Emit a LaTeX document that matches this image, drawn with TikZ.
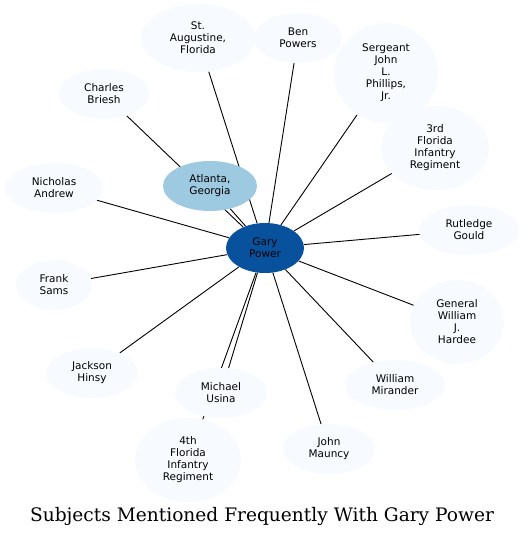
\documentclass[tikz,border=0pt]{standalone}
\usepackage{fontspec}
\setmainfont{DejaVu Sans}
\newfontfamily\titlefont{DejaVu Serif}
\usepackage{tikz}
\usetikzlibrary{shapes.geometric, backgrounds}
\definecolor{garyblue}{HTML}{08519C}
\definecolor{placeblue}{HTML}{9ECAE1}
\definecolor{paleblue}{HTML}{F7FBFF}

\begin{document}
\begin{tikzpicture}[x=1pt, y=-1pt,
        subject/.style={ellipse, fill=paleblue, inner sep=0pt, align=center,
                        font=\fontsize{10.5}{12}\selectfont},
        link/.style={draw, line width=0.9pt}]
        \useasboundingbox (0,0) rectangle (524,538);

        % centre
        \node[subject, fill=garyblue, minimum width=78, minimum height=50](gary) at (265,248) {Gary\\Power};
        \node[subject, fill=placeblue, minimum width=94, minimum height=50](atlanta) at (210,186) {Atlanta,\\Georgia};

        % ring of subjects, clockwise from the top
        \node[subject, minimum width=114, minimum height=68](augustine) at (198,38) {St.\\Augustine,\\Florida};
        \node[subject, minimum width=88, minimum height=50](ben) at (298,38) {Ben\\Powers};
        \node[subject, minimum width=104, minimum height=100](phillips) at (386,73) {Sergeant\\John\\L.\\Phillips,\\Jr.};
        \node[subject, minimum width=108, minimum height=84](third) at (435,148) {3rd\\Florida\\Infantry\\Regiment};
        \node[subject, minimum width=100, minimum height=50](gould) at (469,230) {Rutledge\\Gould};
        \node[subject, minimum width=94, minimum height=84](hardee) at (457,322) {General\\William\\J.\\Hardee};
        \node[subject, minimum width=100, minimum height=50](mirander) at (395,385) {William\\Mirander};
        \node[subject, minimum width=92, minimum height=50](mauncy) at (329,449) {John\\Mauncy};
        \node[subject, minimum width=106, minimum height=84](fourth) at (188,460) {4th\\Florida\\Infantry\\Regiment};
        \node[subject, minimum width=92, minimum height=50](usina) at (221,393) {Michael\\Usina};
        \node[subject, minimum width=92, minimum height=50](hinsy) at (92,373) {Jackson\\Hinsy};
        \node[subject, minimum width=76, minimum height=50](sams) at (54,285) {Frank\\Sams};
        \node[subject, minimum width=98, minimum height=50](andrew) at (54,188) {Nicholas\\Andrew};
        \node[subject, minimum width=90, minimum height=50](briesh) at (104,94) {Charles\\Briesh};

        \node[font=\titlefont\fontsize{18.6}{22}\selectfont](title) at (262,516) {Subjects Mentioned Frequently With Gary Power};

        \begin{pgfonlayer}{background}
        \path[link]
        (gary) edge (atlanta)
        (gary) edge (augustine)
        (gary) edge (ben)
        (gary) edge (phillips)
        (gary) edge (third)
        (gary) edge (gould)
        (gary) edge (hardee)
        (gary) edge (mirander)
        (gary) edge (mauncy)
        (gary) edge (fourth)
        (gary) edge (usina)
        (gary) edge (hinsy)
        (gary) edge (sams)
        (gary) edge (andrew)
        (gary) edge (briesh);
        \end{pgfonlayer}
    \end{tikzpicture}
\end{document}
